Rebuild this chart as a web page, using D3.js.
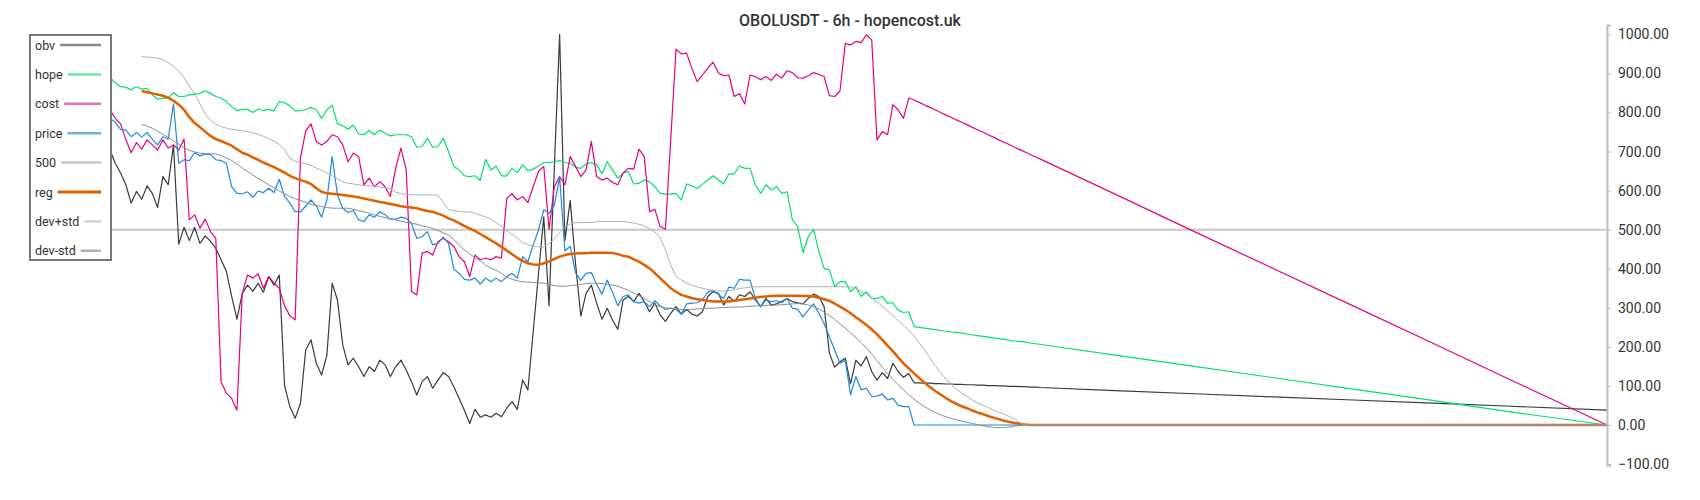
<!DOCTYPE html>
<html>
<head>
<meta charset="utf-8">
<script src="https://cdn.jsdelivr.net/npm/d3@7/dist/d3.min.js"></script>
<style>
  body { margin: 0; background: #fff; }
  svg { display: block; font-family: Roboto, "Noto Sans", sans-serif; }
</style>
</head>
<body>
<div id="vis-container"></div>
<script>
// Set dimensions for the chart
const width = 1700;
const height = 500;
const plot = {left: 110, right: 1607, top: 25, bottom: 465};

const title = "OBOLUSDT - 6h - hopencost.uk";

// bar index of every sample (the flat tail is sampled more sparsely)
const bars = d3.range(177).concat([190, 205, 220, 235, 250, 265, 283]);

const obv = [
  704, 670, 645, 615, 568, 598, 578, 612, 593, 557,
  636, 615, 717, 463, 506, 472, 506, 465, 484, 470,
  452, 423, 393, 329, 271, 337, 358, 342, 363, 340,
  380, 358, 384, 102, 47, 17, 55, 192, 218, 158,
  128, 179, 363, 320, 205, 154, 171, 149, 124, 149,
  137, 166, 154, 124, 149, 166, 141, 111, 77, 111,
  124, 94, 115, 134, 124, 98, 68, 38, 4, 40,
  20, 26, 20, 30, 21, 43, 60, 40, 115, 90,
  238, 386, 533, 305, 660, 1000, 472, 575, 414, 279,
  337, 358, 312, 271, 299, 269, 245, 320, 329, 316,
  337, 316, 290, 312, 282, 265, 286, 303, 284, 296,
  284, 279, 290, 329, 341, 337, 307, 329, 316, 333,
  329, 341, 320, 303, 324, 307, 310, 316, 324, 316,
  313, 310, 324, 335, 329, 303, 184, 148, 162, 171,
  105, 166, 151, 175, 137, 115, 134, 119, 158, 137,
  122, 132, 108, 108, 107, 107, 106, 106, 105, 105,
  104, 104, 103, 103, 102, 102, 101, 101, 100, 100,
  99, 99, 98, 98, 97, 97, 96,
  88, 80, 72, 64, 56, 48, 38];

const hope = [
  890, 876, 866, 865, 858, 866, 860, 862, 845, 834,
  837, 837, 851, 841, 841, 845, 847, 849, 855, 849,
  841, 837, 828, 815, 805, 808, 808, 800, 809, 805,
  808, 804, 828, 825, 817, 804, 805, 807, 813, 807,
  785, 807, 819, 771, 766, 757, 768, 745, 743, 754,
  743, 755, 747, 740, 743, 743, 743, 738, 711, 713,
  734, 711, 713, 734, 700, 662, 653, 638, 636, 638,
  626, 680, 653, 663, 638, 638, 657, 646, 666, 651,
  655, 663, 672, 672, 674, 677, 672, 670, 660, 657,
  668, 672, 666, 643, 674, 653, 632, 645, 649, 617,
  619, 627, 623, 610, 593, 591, 591, 593, 576, 617,
  612, 606, 616, 627, 638, 628, 617, 643, 643, 663,
  657, 657, 615, 593, 615, 602, 610, 593, 597, 525,
  508, 441, 482, 501, 444, 401, 397, 354, 367, 367,
  341, 354, 329, 341, 324, 324, 329, 312, 313, 294,
  288, 290, 252, 250, 248, 246, 244, 242, 240, 238,
  237, 235, 233, 231, 229, 227, 225, 223, 221, 219,
  217, 215, 214, 212, 210, 208, 206,
  179, 150, 121, 92, 63, 33, 0];

const cost = [
  807, 785, 771, 730, 697, 723, 706, 730, 717, 704,
  730, 709, 717, 704, 732, 525, 538, 504, 527, 495,
  478, 111, 81, 68, 38, 337, 384, 376, 387, 350,
  380, 363, 350, 305, 280, 269, 683, 753, 771, 726,
  717, 726, 743, 738, 717, 674, 696, 687, 615, 632,
  610, 623, 610, 585, 657, 709, 653, 342, 333, 440,
  444, 435, 469, 478, 469, 457, 431, 418, 380, 435,
  423, 427, 423, 431, 427, 580, 592, 576, 585, 569,
  610, 649, 662, 501, 610, 636, 615, 687, 662, 636,
  653, 726, 636, 627, 632, 621, 615, 645, 657, 655,
  706, 687, 546, 552, 508, 501, 730, 962, 950, 952,
  913, 879, 896, 913, 929, 902, 894, 896, 841, 848,
  822, 896, 892, 884, 892, 882, 898, 888, 907, 902,
  889, 888, 894, 902, 898, 892, 843, 841, 855, 977,
  973, 982, 979, 999, 986, 730, 751, 743, 820, 807,
  785, 837, 832, 826, 819, 813, 807, 800, 794, 788,
  781, 775, 769, 762, 756, 750, 743, 737, 730, 724,
  718, 711, 705, 699, 692, 686, 680,
  591, 495, 400, 305, 210, 114, 0];

const price = [
  785, 775, 757, 755, 738, 749, 737, 749, 732, 717,
  738, 732, 822, 670, 679, 677, 697, 689, 694, 692,
  679, 677, 670, 610, 593, 592, 597, 583, 599, 595,
  606, 595, 629, 585, 568, 546, 546, 560, 576, 561,
  532, 576, 687, 589, 555, 544, 549, 525, 521, 538,
  532, 546, 538, 527, 527, 532, 529, 516, 478, 482,
  495, 461, 465, 481, 465, 399, 388, 373, 371, 376,
  361, 376, 367, 376, 367, 380, 388, 376, 431, 418,
  461, 499, 551, 542, 563, 634, 446, 457, 390, 370,
  388, 390, 360, 335, 371, 340, 305, 329, 333, 316,
  312, 316, 303, 318, 305, 296, 299, 296, 284, 310,
  312, 313, 320, 341, 344, 335, 324, 353, 350, 373,
  371, 371, 324, 303, 320, 316, 318, 313, 324, 299,
  296, 277, 294, 310, 286, 260, 226, 192, 158, 166,
  77, 124, 90, 94, 73, 74, 79, 64, 68, 51,
  47, 47, 0, 0, 0, 0, 0, 0, 0, 0,
  0, 0, 0, 0, 0, 0, 0, 0, 0, 0,
  0, 0, 0, 0, 0, 0, 0,
  0, 0, 0, 0, 0, 0, 0];

const level500 = 500;

const reg = [
  null, null, null, null, null, null, 855, 852, 849, 846,
  843, 838, 830, 820, 807, 788, 773, 762, 751, 740,
  732, 727, 721, 715, 706, 697, 692, 685, 679, 672,
  666, 660, 653, 646, 638, 632, 627, 623, 617, 606,
  597, 593, 592, 591, 589, 587, 585, 583, 580, 577,
  574, 571, 569, 566, 563, 560, 558, 557, 555, 551,
  548, 546, 541, 536, 529, 524, 517, 510, 503, 497,
  489, 481, 473, 465, 456, 447, 437, 428, 420, 414,
  411, 410, 414, 419, 425, 431, 435, 438, 439, 440,
  440, 441, 441, 441, 441, 440, 438, 433, 431, 424,
  418, 410, 401, 389, 376, 363, 350, 341, 333, 329,
  325, 322, 320, 318, 316, 316, 316, 316, 318, 320,
  322, 324, 326, 328, 329, 330, 331, 331, 331, 331,
  331, 330, 330, 329, 326, 322, 318, 311, 303, 295,
  286, 276, 266, 256, 245, 232, 218, 203, 189, 173,
  158, 145, 132, 120, 108, 97, 87, 78, 69, 61,
  54, 48, 43, 37, 32, 28, 23, 19, 15, 11,
  8, 5, 3, 1, 0, 0, 0,
  0, 0, 0, 0, 0, 0, 0];

const devPlus = [
  null, null, null, null, null, null, 943, 942, 941, 939,
  935, 928, 918, 906, 890, 868, 848, 822, 797, 780,
  770, 764, 760, 757, 755, 753, 751, 748, 744, 739,
  733, 727, 718, 705, 683, 675, 672, 669, 665, 658,
  652, 645, 638, 630, 622, 619, 617, 615, 613, 612,
  612, 610, 607, 604, 596, 592, 591, 590, 589, 589,
  589, 589, 588, 570, 551, 549, 547, 546, 545, 542,
  537, 533, 527, 518, 508, 497, 488, 478, 467, 462,
  458, 456, 456, 465, 476, 492, 506, 514, 518, 518,
  518, 519, 520, 521, 521, 521, 521, 521, 519, 517,
  514, 510, 503, 494, 480, 448, 410, 380, 371, 363,
  358, 354, 350, 347, 345, 343, 343, 344, 346, 349,
  351, 353, 354, 354, 354, 354, 354, 354, 354, 354,
  354, 354, 354, 354, 354, 354, 354, 354, 354, 354,
  354, 348, 342, 335, 325, 315, 304, 292, 280, 267,
  255, 243, 228, 210, 192, 172, 152, 134, 118, 104,
  92, 82, 73, 64, 57, 51, 45, 38, 33, 28,
  22, 15, 6, 0, 0, 0, 0,
  0, 0, 0, 0, 0, 0, 0];

const devMinus = [
  null, null, null, null, null, null, 770, 765, 760, 752,
  744, 736, 727, 719, 710, 703, 699, 696, 695, 694,
  694, 690, 684, 677, 668, 658, 649, 640, 631, 623,
  615, 607, 599, 592, 585, 579, 575, 570, 565, 562,
  559, 557, 555, 555, 555, 555, 552, 549, 546, 542,
  538, 534, 531, 528, 525, 522, 519, 517, 514, 510,
  507, 503, 498, 492, 487, 475, 460, 448, 438, 428,
  420, 410, 401, 396, 388, 379, 373, 369, 367, 366,
  365, 364, 363, 360, 357, 355, 355, 357, 358, 360,
  362, 363, 363, 362, 360, 358, 355, 350, 345, 338,
  331, 324, 316, 308, 303, 300, 298, 297, 296, 295,
  296, 297, 298, 299, 299, 300, 301, 301, 302, 302,
  303, 304, 305, 305, 306, 307, 307, 308, 309, 310,
  311, 310, 307, 303, 297, 289, 280, 270, 259, 248,
  236, 224, 211, 197, 182, 165, 148, 132, 117, 103,
  90, 77, 66, 56, 47, 39, 32, 26, 21, 17,
  13, 10, 7, 4, 1, -2, -4, -6, -7, -6,
  -5, -3, -1, 0, 0, 0, 0,
  0, 0, 0, 0, 0, 0, 0];

const yTicks = [-100, 0, 100, 200, 300, 400, 500, 600, 700, 800, 900, 1000];

// legend order, with the colours used in the plot and in the legend swatch
const series = [
  {name: "obv",     values: obv,      color: "#3a3a3a", legend: "#888888", width: 1.2},
  {name: "hope",    values: hope,     color: "#00e070", legend: "#6ee7a4", width: 1.2},
  {name: "cost",    values: cost,     color: "#e6007e", legend: "#ee6eb3", width: 1.2},
  {name: "price",   values: price,    color: "#1e88e5", legend: "#68b0ec", width: 1.2},
  {name: "500",     values: null,     color: "#c8c8c8", legend: "#c8c8c8", width: 2},
  {name: "reg",     values: reg,      color: "#e06000", legend: "#d86000", width: 2.5},
  {name: "dev+std", values: devPlus,  color: "#aab3ba", legend: "#d0d4d8", width: 1},
  {name: "dev-std", values: devMinus, color: "#858f96", legend: "#aab3ba", width: 1}
];

const svg = d3.select("#vis-container")
  .append("svg")
  .attr("width", width)
  .attr("height", height)
  .attr("viewBox", [0, 0, width, height]);

svg.append("rect").attr("width", width).attr("height", height).attr("fill", "#fff");

let xScale = d3.scaleLinear()
  .domain([0, d3.max(bars)])
  .range([plot.left, plot.right]);

let yScale = d3.scaleLinear()
  .domain([-102.4, 1024])
  .range([plot.bottom, plot.top]);

// title
svg.append("text")
  .attr("x", width / 2)
  .attr("y", 26)
  .attr("text-anchor", "middle")
  .attr("font-size", "16px")
  .attr("font-weight", 500)
  .attr("fill", "#333")
  .text(title);

// 500 level line
svg.append("line")
  .attr("x1", xScale(bars[0]))
  .attr("x2", xScale(bars[bars.length - 1]))
  .attr("y1", yScale(level500))
  .attr("y2", yScale(level500))
  .attr("stroke", "#c8c8c8")
  .attr("stroke-width", 2);

const line = d3.line()
  .defined(d => d[1] != null)
  .x(d => xScale(d[0]))
  .y(d => yScale(d[1]));

// draw order: price under reg, the bands over it
const drawOrder = ["obv", "hope", "cost", "price", "reg", "dev+std", "dev-std"];
drawOrder.forEach(function(name) {
  const s = series.find(d => d.name === name);
  svg.append("path")
    .datum(bars.map((b, i) => [b, s.values[i]]))
    .attr("fill", "none")
    .attr("stroke", s.color)
    .attr("stroke-width", s.width)
    .attr("stroke-linejoin", "round")
    .attr("d", line);
});

// right axis
const axis = svg.append("g")
  .attr("transform", `translate(${plot.right}, 0)`)
  .call(d3.axisRight(yScale)
    .tickValues(yTicks)
    .tickFormat(d3.format(".2f"))
    .tickSize(4)
    .tickSizeOuter(4)
    .tickPadding(7));
axis.select(".domain").attr("stroke", "#b4c0c8").attr("stroke-width", 2);
axis.selectAll(".tick line").attr("stroke", "#b4c0c8");
axis.selectAll(".tick text")
  .attr("fill", "#333")
  .attr("font-size", "14px")
  .attr("font-family", "Roboto, sans-serif");

// legend box
const legend = svg.append("g");
legend.append("rect")
  .attr("x", 30)
  .attr("y", 35)
  .attr("width", 81)
  .attr("height", 225)
  .attr("fill", "#fff")
  .attr("stroke", "#777")
  .attr("stroke-width", 2);

series.forEach(function(s, i) {
  const cy = 45 + i * 29.4;
  const t = legend.append("text")
    .attr("x", 35)
    .attr("y", cy + 4.5)
    .attr("font-size", "12.5px")
    .attr("fill", "#333")
    .text(s.name);
  const tw = t.node().getComputedTextLength();
  legend.append("line")
    .attr("x1", 35 + tw + 5)
    .attr("x2", 101)
    .attr("y1", cy)
    .attr("y2", cy)
    .attr("stroke", s.legend)
    .attr("stroke-width", s.name === "reg" ? 3 : 2.5);
});
</script>
</body>
</html>
